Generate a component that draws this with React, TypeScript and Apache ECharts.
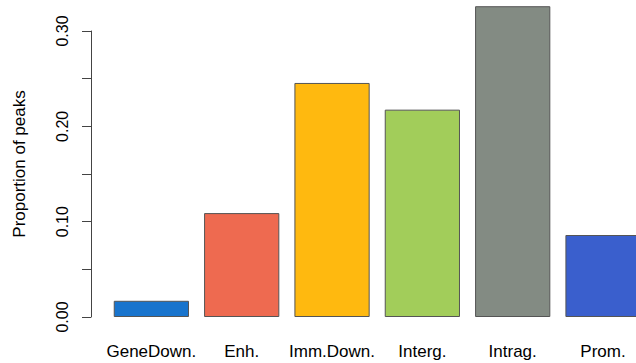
import React, { useEffect, useRef } from "react";
import * as echarts from "echarts";

// Peak annotation categories and their share of all peaks
const categories = ["GeneDown.", "Enh.", "Imm.Down.", "Interg.", "Intrag.", "Prom."];
const proportions = [0.017, 0.109, 0.2455, 0.2175, 0.326, 0.086];
const barColors = ["#1874CD", "#EE6A50", "#FFB90F", "#A2CD5A", "#838B83", "#3A5FCD"];
const yTicks = [0, 0.05, 0.1, 0.15, 0.2, 0.25, 0.3];

const FONT = "'Liberation Sans', Arial, Helvetica, sans-serif";

export default function App() {
  const ref = useRef<HTMLDivElement>(null);

  useEffect(() => {
    if (!ref.current) return;
    const chart = echarts.init(ref.current, null, { renderer: "svg" });
    const tickMax = yTicks[yTicks.length - 1];
    chart.setOption({
      animation: false,
      backgroundColor: "#ffffff",
      grid: [
        // plotting region for the bars
        { left: 106.2, width: 542, top: 2.4, bottom: 46 },
        // R-style y axis that only spans the tick range
        { left: 91, width: 1, top: 31, bottom: 46 },
      ],
      xAxis: [
        {
          type: "category",
          gridIndex: 0,
          data: categories,
          axisLine: { show: false },
          axisTick: { show: false },
          axisLabel: {
            color: "#000",
            fontSize: 17,
            fontFamily: FONT,
            margin: 26,
            interval: 0,
          },
        },
        { type: "value", gridIndex: 1, show: false, min: 0, max: 1 },
      ],
      yAxis: [
        { type: "value", gridIndex: 0, min: 0, max: 0.33, show: false },
        {
          type: "value",
          gridIndex: 1,
          min: 0,
          max: tickMax,
          interval: 0.05,
          splitLine: { show: false },
          axisLine: { show: true, lineStyle: { color: "#444", width: 1 } },
          axisTick: { show: true, length: 9, lineStyle: { color: "#444", width: 1 } },
          axisLabel: {
            rotate: 90,
            margin: 21,
            color: "#000",
            fontSize: 16,
            fontFamily: FONT,
            formatter: (v: number) =>
              Math.round(v * 100) % 10 === 0 ? v.toFixed(2) : "",
          },
        },
      ],
      graphic: [
        {
          type: "text",
          x: 19,
          y: 164,
          rotation: Math.PI / 2,
          style: {
            text: "Proportion of peaks",
            fontSize: 17,
            fontFamily: FONT,
            fill: "#000",
            align: "center",
            verticalAlign: "middle",
          },
        },
      ],
      series: [
        {
          type: "bar",
          xAxisIndex: 0,
          yAxisIndex: 0,
          barCategoryGap: "16.7%",
          data: proportions.map((v, i) => ({
            value: v,
            itemStyle: { color: barColors[i] },
          })),
          itemStyle: { borderColor: "#555", borderWidth: 1 },
        },
      ],
    });
    return () => chart.dispose();
  }, []);

  return (
    <div
      style={{
        position: "absolute",
        left: 0,
        top: 0,
        width: 636,
        height: 363,
        overflow: "hidden",
        background: "#fff",
      }}
    >
      <div ref={ref} style={{ width: 660, height: 363 }} />
    </div>
  );
}
